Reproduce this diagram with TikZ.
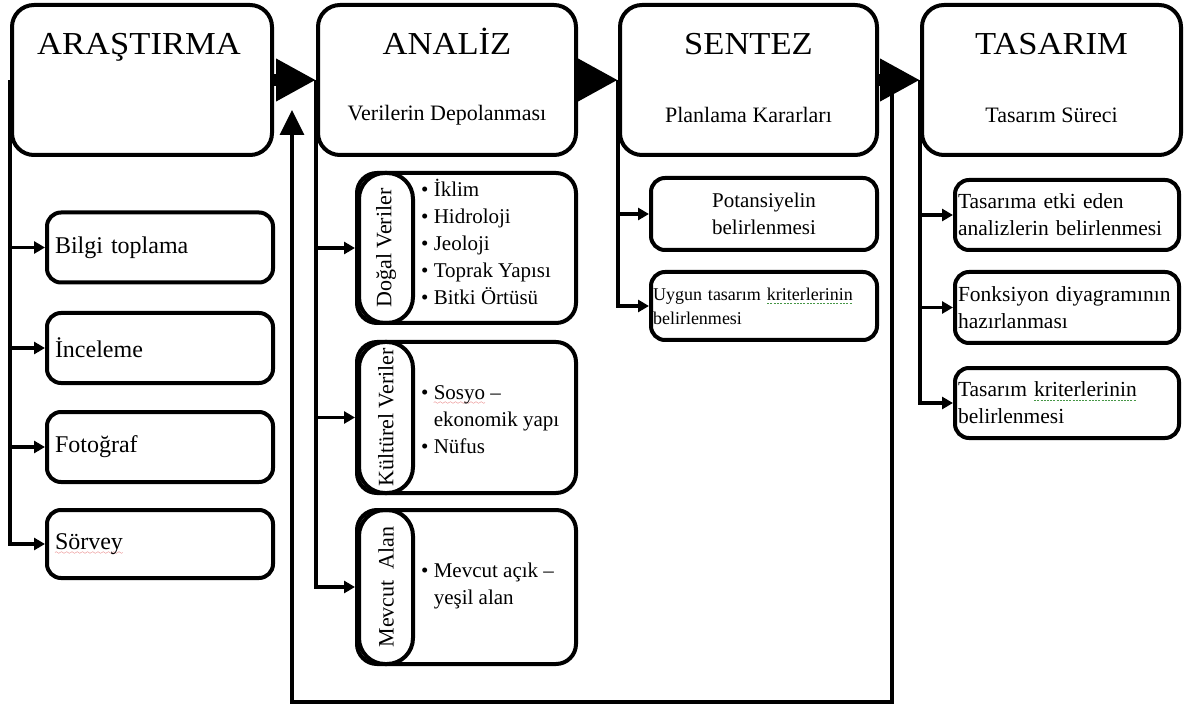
\documentclass[tikz,border=0pt]{standalone}
\usepackage{fontspec}
\setmainfont{Liberation Serif}
\usetikzlibrary{arrows.meta}
\definecolor{spellred}{RGB}{215, 40, 40}
\definecolor{spellgreen}{RGB}{70, 150, 70}
\font\spellwave=lasy6
\newcommand{\redwave}[1]{\setbox0\hbox{#1}\rlap{\lower5pt\hbox to \wd0{\color{spellred}\xleaders\hbox{\spellwave\char58}\hfill}}\box0\relax}
\newcommand{\greendash}[1]{\setbox0\hbox{#1}\rlap{\lower4pt\hbox to \wd0{\color{spellgreen}\xleaders\hbox{\vrule width 2pt height 0.7pt\kern1.2pt}\hfill}}\box0\relax}

\tikzset{
	stagebox/.style={draw, line width=4pt, rounded corners=22pt, minimum width=258pt, minimum height=150pt},
	head/.style={font=\fontsize{32}{38}\selectfont, inner sep=0pt, anchor=base, xscale=1.08},
	subhead/.style={font=\fontsize{22}{26}\selectfont, inner sep=0pt},
	leafbox/.style={draw, line width=4pt, rounded corners=14pt, minimum width=226pt, minimum height=70pt, text width=210pt, inner xsep=8pt, inner ysep=0pt, align=left, font=\fontsize{24}{28}\selectfont},
	databox/.style={draw, line width=4pt, rounded corners=20pt, minimum width=219pt, minimum height=150pt},
	pill/.style={draw, line width=4pt, rounded corners=26pt, minimum height=54pt, inner sep=0pt, rotate=90, font=\fontsize{22}{26}\selectfont},
	items/.style={align=left, inner sep=0pt, anchor=west, font=\fontsize{21}{27}\selectfont},
	planbox/.style={draw, line width=4pt, rounded corners=14pt, minimum width=226pt, text width=222pt, inner xsep=2pt, inner ysep=0pt},
	designbox/.style={draw, line width=4pt, rounded corners=14pt, minimum width=224pt, minimum height=70pt, text width=218pt, inner xsep=3pt, inner ysep=0pt, align=left, font=\fontsize{21.5}{27}\selectfont},
	flow/.style={line width=12pt, -{Triangle[length=40pt, width=40pt]}},
	link/.style={line width=3.5pt, -{Triangle[length=11pt, width=12pt]}},
	feedback/.style={line width=3.5pt, -{Triangle[length=25pt, width=24pt]}}
}

\begin{document}
\begin{tikzpicture}[x=1pt, y=-1pt]
	\useasboundingbox (0,0) rectangle (1188,708);

	\node[stagebox, minimum width=260pt] (arastirma) at (142,80) {};
	\node[stagebox] (analiz) at (447,80) {};
	\node[stagebox, minimum width=257pt] (sentez) at (748.5,80) {};
	\node[stagebox, minimum width=259pt] (tasarim) at (1051.5,80) {};

	\node[head] (arastirmaT) at (139,55) {ARAŞTIRMA};
	\node[head] (analizT) at (447,55) {ANALİZ};
	\node[subhead] (analizS) at (447,115) {Verilerin Depolanması};
	\node[head] (sentezT) at (748.5,55) {SENTEZ};
	\node[subhead] (sentezS) at (748.5,115) {Planlama Kararları};
	\node[head] (tasarimT) at (1051.5,55) {TASARIM};
	\node[subhead] (tasarimS) at (1051.5,115) {Tasarım Süreci};

	\draw[flow] (arastirma.east) -- (analiz.west);
	\draw[flow] (analiz.east) -- (sentez.west);
	\draw[flow] (sentez.east) -- (tasarim.west);

	\node[leafbox] (bilgi) at (160,247.5) {Bilgi toplama};
	\node[leafbox] (inceleme) at (160,348) {İnceleme};
	\node[leafbox] (fotograf) at (160,447) {Fotoğraf};
	\node[leafbox, minimum height=68pt] (sorvey) at (160,544) {\redwave{Sörvey}};
	\foreach \leaf in {bilgi, inceleme, fotograf, sorvey}
		\draw[link] (arastirma.west) |- (\leaf.west);

	\node[databox] (dogal) at (466.5,248) {};
	\node[databox, minimum height=151pt] (kulturel) at (466.5,417.5) {};
	\node[databox, minimum height=154pt] (mevcut) at (466.5,587) {};
	\node[pill, minimum width=150pt] (dogalP) at (386,248) {Doğal Veriler};
	\node[pill, minimum width=151pt] (kulturelP) at (386,417.5) {Kültürel Veriler};
	\node[pill, minimum width=154pt] (mevcutP) at (386,587) {Mevcut\ \ Alan};
	\node[items] (dogalL) at (421,242) {• İklim\\• Hidroloji\\• Jeoloji\\• Toprak Yapısı\\• Bitki Örtüsü};
	\node[items] (kulturelL) at (421,420) {• \redwave{Sosyo} –\\\hphantom{•\ }ekonomik yapı\\• Nüfus};
	\node[items] (mevcutL) at (421,586) {• Mevcut açık –\\\hphantom{•\ }yeşil alan};
	\foreach \data in {dogal, kulturel, mevcut}
		\draw[link] (analiz.west) |- (\data.west);

	\node[planbox, minimum height=72pt, align=center, font=\fontsize{21}{27}\selectfont] (potansiyel) at (764,214) {Potansiyelin\\belirlenmesi};
	\node[planbox, minimum height=68pt, align=left, font=\fontsize{18}{24}\selectfont] (uygun) at (764,306) {Uygun tasarım \greendash{kriterlerinin}\\belirlenmesi\\[-4pt]};
	\foreach \plan in {potansiyel, uygun}
		\draw[link] (sentez.west) |- (\plan.west);

	\node[designbox] (etki) at (1067,215) {Tasarıma etki eden\\analizlerin belirlenmesi};
	\node[designbox, minimum height=71pt] (fonksiyon) at (1067,307.5) {Fonksiyon diyagramının\\hazırlanması};
	\node[designbox] (kriter) at (1067,403) {Tasarım \greendash{kriterlerinin}\\belirlenmesi};
	\foreach \design in {etki, fonksiyon, kriter}
		\draw[link] (tasarim.west) |- (\design.west);

	\coordinate (loopA) at (892,92);
	\coordinate (loopB) at (892,702);
	\coordinate (loopC) at (292,702);
	\coordinate (loopD) at (292,110);
	\draw[feedback] (loopA) -- (loopB) -- (loopC) -- (loopD);
\end{tikzpicture}
\end{document}
